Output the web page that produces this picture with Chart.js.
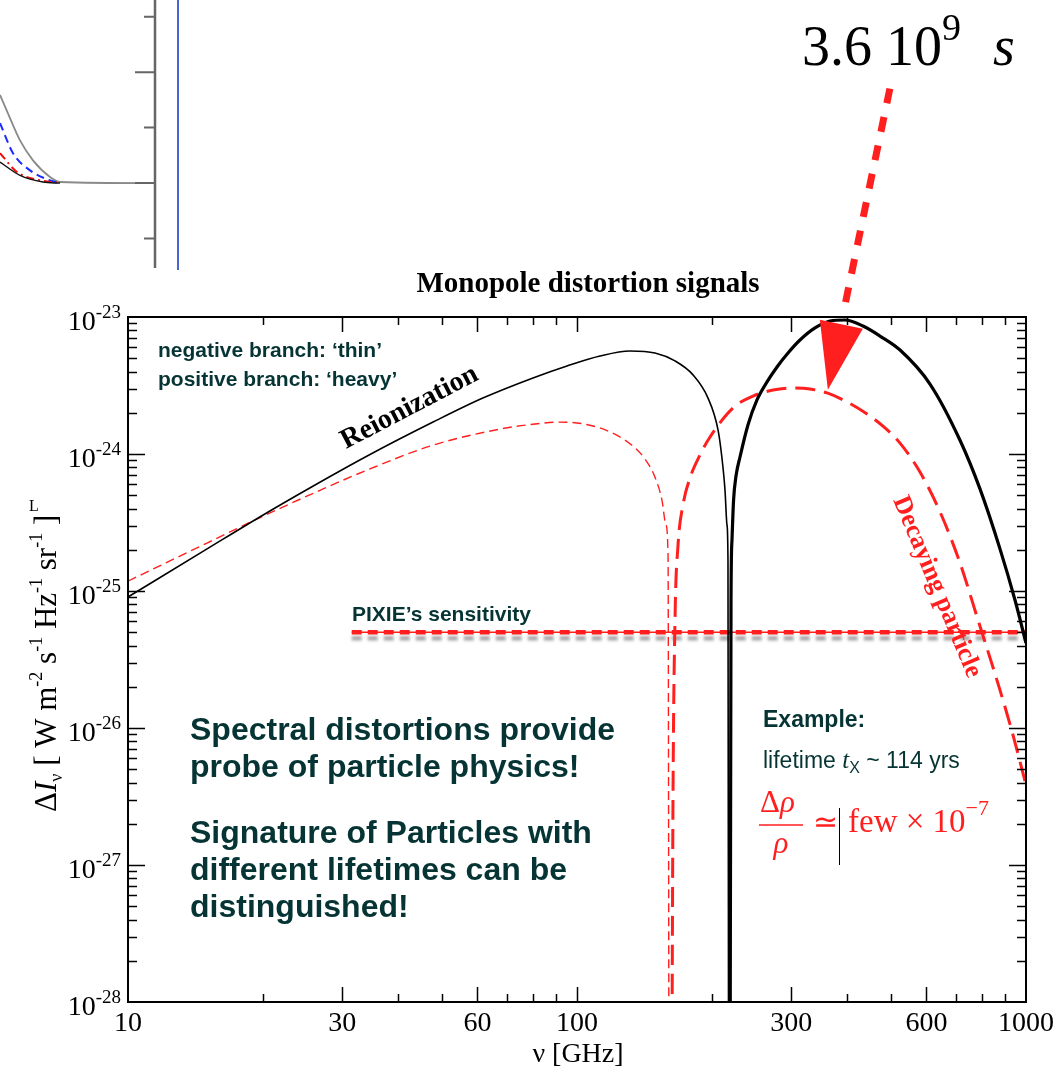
<!DOCTYPE html>
<html>
<head>
<meta charset="utf-8">
<script src="https://cdn.jsdelivr.net/npm/chart.js@4.4.1/dist/chart.umd.min.js"></script>
<style>
html, body { margin: 0; padding: 0; background: #fff; }
#wrap { position: relative; width: 1060px; height: 1072px; overflow: hidden; }
#main { position: absolute; left: 0; top: 0; width: 1060px; height: 1072px; }
#inset { position: absolute; left: 0; top: 0; width: 190px; height: 270px; }
</style>
</head>
<body>
<div id="wrap">
  <div id="main"><canvas id="mainChart"></canvas></div>
  <div id="inset"><canvas id="insetChart"></canvas></div>
</div>
<script>
// frequencies in GHz, intensities in W m^-2 s^-1 Hz^-1 sr^-1
const reionNu = [10, 15, 20, 25.4, 34.1, 47.8, 61.7, 79.8, 95, 112.5, 131.2, 149.2, 165.3, 181.3, 195.8, 206.1, 210.3, 213.6, 215.8, 216.9, 217.6];
const reionI  = [9.04e-26, 2.03e-25, 3.59e-25, 5.65e-25, 9.67e-25, 1.71e-24, 2.56e-24, 3.59e-24, 4.39e-24, 5.19e-24, 5.65e-24, 5.46e-24, 4.78e-24, 3.78e-24, 2.56e-24, 1.5e-24, 9.35e-25, 5.46e-25, 3.03e-25, 1.68e-25, 1e-29];

const heavyNu = [219.2, 220.3, 221.4, 223.2, 226, 230.7, 240.3, 251.7, 265, 278.9, 295.1, 313.8, 338.9, 366.1, 395.4, 433.5, 473.1, 524.2, 611.2, 712.9, 789.8, 875.1, 945.1, 1000];
const heavyI  = [1e-29, 8.59e-26, 2.36e-25, 4.61e-25, 6.9e-25, 9.51e-25, 1.63e-24, 2.48e-24, 3.36e-24, 4.32e-24, 5.46e-24, 6.79e-24, 8.32e-24, 9.35e-24, 9.51e-24, 8.59e-24, 7.26e-24, 5.74e-24, 3.24e-24, 1.26e-24, 5.56e-25, 2.03e-25, 8.59e-26, 4.17e-26];

const decayThinNu = [10, 15, 20, 27.2, 34.1, 47.8, 67.4, 79.8, 91.6, 104.2, 118.4, 133.3, 141.7, 149.1, 154.6, 157.8, 159.5, 160.3];
const decayThinI  = [1.18e-25, 2.24e-25, 3.52e-25, 5.56e-25, 7.64e-25, 1.16e-24, 1.52e-24, 1.65e-24, 1.71e-24, 1.65e-24, 1.45e-24, 1.14e-24, 9.2e-25, 6.8e-25, 4.61e-25, 3.03e-25, 1.83e-25, 1e-29];

const decayHeavyNu = [162.5, 163.6, 165.3, 167.9, 172.2, 178.5, 187.9, 197.8, 222.6, 246.6, 273.3, 302.8, 330.3, 360.5, 399.5, 442.6, 485.3, 524.2, 580.6, 643.5, 712.9, 781.9, 875.1, 935.4, 1000];
const decayHeavyI  = [1e-29, 2.98e-27, 6.14e-26, 2.17e-25, 4.25e-25, 6.68e-25, 9.84e-25, 1.33e-24, 2.17e-24, 2.65e-24, 2.93e-24, 3.03e-24, 2.98e-24, 2.79e-24, 2.4e-24, 1.96e-24, 1.55e-24, 1.2e-24, 7.39e-25, 3.78e-25, 1.6e-25, 6.14e-26, 1.89e-26, 8.89e-27, 3.84e-27];

const pixieNu = [31.5, 1000];
const pixieI  = [5.0e-26, 5.0e-26];

// arrow tip (GHz, intensity)
const arrowTip = [362, 2.95e-24];

const xLabelVals = [10, 30, 60, 100, 300, 600, 1000];
const xMajorTicks = [30, 60, 100, 300, 600];
const xMinorTicks = [20, 40, 50, 70, 80, 90, 200, 400, 500, 700, 800, 900];
const yDecades = [-28, -27, -26, -25, -24, -23];

// cropped panel in the top-left corner (arbitrary units)
const insetGrayX  = [0, 10, 20, 33, 50, 60, 155];
const insetGrayY  = [1.59, 1.17, 0.77, 0.41, 0.11, 0.02, 0];
const insetBlueX  = [0, 13, 30, 50, 60];
const insetBlueY  = [1.08, 0.54, 0.23, 0.05, 0];
const insetRedX   = [0, 17, 40, 57];
const insetRedY   = [0.54, 0.2, 0.05, 0.01];
const insetBlackX = [0, 20, 43, 60];
const insetBlackY = [0.38, 0.14, 0.02, 0];
const insetMajor  = [2, 0];
const insetMinor  = [3, 1, -1];
const insetMarkerX = 178;

const SERIF = '"Liberation Serif", "Times New Roman", serif';
const SANS = '"Liberation Sans", Arial, sans-serif';
const RED = '#ff1f1f';
const TEAL = '#063434';

const pts = (xs, ys) => xs.map((v, i) => ({ x: v, y: ys[i] }));

function rich(ctx, x, y, parts) {
  let cx = x;
  parts.forEach(([t, f, dy]) => {
    ctx.font = f;
    ctx.fillText(t, cx, y + (dy || 0));
    cx += ctx.measureText(t).width;
  });
  return cx - x;
}
function richWidth(ctx, parts) {
  let w = 0;
  parts.forEach(([t, f]) => { ctx.font = f; w += ctx.measureText(t).width; });
  return w;
}

const pixieShadow = {
  id: 'pixieShadow',
  beforeDatasetDraw(chart, args) {
    if (args.index !== 4) return;
    const ctx = chart.ctx;
    ctx.save();
    ctx.shadowColor = 'rgba(60,60,60,0.45)';
    ctx.shadowBlur = 3;
    ctx.shadowOffsetY = 6;
  },
  afterDatasetDraw(chart, args) {
    if (args.index !== 4) return;
    chart.ctx.restore();
  }
};

const decorations = {
  id: 'decorations',
  afterDraw(chart) {
    const { ctx, chartArea: a, scales: { x, y } } = chart;
    ctx.save();

    // frame
    ctx.strokeStyle = '#000';
    ctx.lineWidth = 2;
    ctx.strokeRect(a.left, a.top, a.right - a.left, a.bottom - a.top);

    // inward ticks
    ctx.lineWidth = 1.5;
    ctx.beginPath();
    xMajorTicks.concat(xMinorTicks).forEach(v => {
      const px = Math.round(x.getPixelForValue(v)) + 0.5;
      const len = xMajorTicks.includes(v) ? 15 : 8;
      ctx.moveTo(px, a.bottom); ctx.lineTo(px, a.bottom - len);
      ctx.moveTo(px, a.top); ctx.lineTo(px, a.top + len);
    });
    yDecades.forEach(d => {
      if (d > -28 && d < -23) {
        const py = Math.round(y.getPixelForValue(Math.pow(10, d))) + 0.5;
        ctx.moveTo(a.left, py); ctx.lineTo(a.left + 17, py);
        ctx.moveTo(a.right, py); ctx.lineTo(a.right - 17, py);
      }
      if (d < -23) {
        for (let m = 2; m <= 9; m++) {
          const py = Math.round(y.getPixelForValue(m * Math.pow(10, d))) + 0.5;
          ctx.moveTo(a.left, py); ctx.lineTo(a.left + 9, py);
          ctx.moveTo(a.right, py); ctx.lineTo(a.right - 9, py);
        }
      }
    });
    ctx.stroke();

    // tick labels
    ctx.fillStyle = '#000';
    ctx.textBaseline = 'alphabetic';
    ctx.textAlign = 'center';
    ctx.font = '28px ' + SERIF;
    xLabelVals.forEach(v => ctx.fillText(String(v), x.getPixelForValue(v), a.bottom + 29));
    ctx.textAlign = 'left';
    yDecades.forEach(d => {
      const py = y.getPixelForValue(Math.pow(10, d));
      const parts = [['10', '28px ' + SERIF, 0], ['-' + (-d), '19px ' + SERIF, -12]];
      const w = richWidth(ctx, parts);
      rich(ctx, 121 - w, py + 13, parts);
    });

    // axis titles
    ctx.textAlign = 'center';
    ctx.font = '28px ' + SERIF;
    ctx.fillText('\u03bd [GHz]', 578, 1062);
    ctx.textAlign = 'left';
    ctx.save();
    ctx.translate(56, 812);
    ctx.rotate(-Math.PI / 2);
    const big = '31px ' + SERIF, sm = '18px ' + SERIF;
    rich(ctx, 0, 0, [['\u0394', big], ['I', 'italic ' + big], ['\u03bd', sm, 6], [' [ W m', big], ['-2', sm, -14],
      [' s', big], ['-1', sm, -14], [' Hz', big], ['-1', sm, -14], [' sr', big], ['-1', sm, -14], [' ]', big]]);
    ctx.restore();
    ctx.font = '16px ' + SERIF;
    ctx.fillText('L', 29, 511);

    // title
    ctx.textAlign = 'center';
    ctx.font = 'bold 29px ' + SERIF;
    ctx.fillText('Monopole distortion signals', 588, 292);

    // curve labels
    ctx.textAlign = 'left';
    ctx.save();
    ctx.translate(346, 449);
    ctx.rotate(Math.atan2(-70, 134));
    ctx.font = 'bold 28px ' + SERIF;
    ctx.fillText('Reionization', 0, 0);
    ctx.restore();
    ctx.save();
    ctx.translate(893, 500);
    ctx.rotate(Math.atan2(183, 77));
    ctx.fillStyle = RED;
    ctx.font = 'bold 26px ' + SERIF;
    ctx.fillText('Decaying particle', 0, 0);
    ctx.restore();

    // teal annotations
    ctx.fillStyle = TEAL;
    ctx.font = 'bold 21px ' + SANS;
    ctx.fillText('negative branch: \u2018thin\u2019', 158, 357);
    ctx.fillText('positive branch: \u2018heavy\u2019', 158, 386);
    ctx.fillText('PIXIE\u2019s sensitivity', 352, 621);
    ctx.font = 'bold 32px ' + SANS;
    ['Spectral distortions provide', 'probe of particle physics!'].forEach((t, i) => ctx.fillText(t, 190, 740 + i * 37));
    ['Signature of Particles with', 'different lifetimes can be', 'distinguished!'].forEach((t, i) => ctx.fillText(t, 190, 843 + i * 37));
    ctx.font = 'bold 23px ' + SANS;
    ctx.fillText('Example:', 763, 727);
    rich(ctx, 763, 768, [['lifetime ', '23px ' + SANS], ['t', 'italic 25px ' + SERIF], ['X', '16px ' + SANS, 5], [' ~ 114 yrs', '23px ' + SANS]]);

    // formula
    ctx.fillStyle = RED;
    ctx.strokeStyle = RED;
    rich(ctx, 760, 812, [['\u0394', '31px ' + SERIF], ['\u03c1', 'italic 31px ' + SERIF]]);
    ctx.textAlign = 'center';
    ctx.font = 'italic 31px ' + SERIF;
    ctx.fillText('\u03c1', 781, 853);
    ctx.lineWidth = 1.5;
    ctx.beginPath(); ctx.moveTo(759, 825); ctx.lineTo(803, 825); ctx.stroke();
    ctx.textAlign = 'left';
    ctx.font = '30px ' + SERIF;
    ctx.fillText('\u2243', 813, 832);
    rich(ctx, 848, 832, [['few \u00d7 10', '33px ' + SERIF], ['\u22127', '22px ' + SERIF, -17]]);
    ctx.strokeStyle = '#000';
    ctx.lineWidth = 1;
    ctx.beginPath(); ctx.moveTo(839.5, 808); ctx.lineTo(839.5, 865); ctx.stroke();

    // arrow pointing at the peak
    const tx = x.getPixelForValue(arrowTip[0]);
    const ty = y.getPixelForValue(arrowTip[1]);
    ctx.fillStyle = RED;
    ctx.strokeStyle = RED;
    ctx.lineWidth = 7;
    ctx.setLineDash([15, 14]);
    ctx.beginPath(); ctx.moveTo(tx + 62, ty - 301); ctx.lineTo(tx + 17, ty - 84); ctx.stroke();
    ctx.setLineDash([]);
    ctx.beginPath();
    ctx.moveTo(tx, ty); ctx.lineTo(tx - 8, ty - 70); ctx.lineTo(tx + 35, ty - 61); ctx.closePath();
    ctx.fill();

    // lifetime label
    ctx.fillStyle = '#000';
    rich(ctx, 802, 65, [['3.6 10', '56px ' + SERIF], ['9', '38px ' + SERIF, -25]]);
    ctx.font = 'italic 56px ' + SERIF;
    ctx.fillText('s', 993, 65);

    ctx.restore();
  }
};

const noAxis = {
  display: true,
  grid: { display: false, drawTicks: false },
  border: { display: false },
  ticks: { display: false }
};

new Chart(document.getElementById('mainChart'), {
  type: 'line',
  data: {
    datasets: [
      { data: pts(heavyNu, heavyI), borderColor: '#000', borderWidth: 3.2, order: 1 },
      { data: pts(reionNu, reionI), borderColor: '#000', borderWidth: 1.6, order: 2 },
      { data: pts(decayHeavyNu, decayHeavyI), borderColor: RED, borderWidth: 3, borderDash: [20, 9], order: 3 },
      { data: pts(decayThinNu, decayThinI), borderColor: RED, borderWidth: 1.4, borderDash: [9, 5], order: 4 },
      { data: pts(pixieNu, pixieI), borderColor: RED, borderWidth: 4.5, borderDash: [10, 6], order: 6 },
      { data: pts(pixieNu, pixieI), borderColor: RED, borderWidth: 1.3, order: 5 }
    ]
  },
  options: {
    responsive: true,
    maintainAspectRatio: false,
    animation: false,
    devicePixelRatio: 1,
    layout: { padding: { left: 128, top: 317, right: 34, bottom: 70 } },
    elements: {
      point: { radius: 0 },
      line: { cubicInterpolationMode: 'monotone', borderJoinStyle: 'round', fill: false }
    },
    plugins: { legend: { display: false }, tooltip: { enabled: false } },
    scales: {
      x: Object.assign({ type: 'logarithmic', min: 10, max: 1000, afterFit: s => { s.height = 0; } }, noAxis),
      y: Object.assign({ type: 'logarithmic', min: 1e-28, max: 1e-23, afterFit: s => { s.width = 0; } }, noAxis)
    }
  },
  plugins: [pixieShadow, decorations]
});

const insetAxis = {
  id: 'insetAxis',
  afterDraw(chart) {
    const { ctx, chartArea: a, scales: { y } } = chart;
    ctx.save();
    ctx.strokeStyle = '#666';
    ctx.lineWidth = 2.5;
    ctx.beginPath();
    ctx.moveTo(a.right, 0); ctx.lineTo(a.right, a.bottom);
    ctx.stroke();
    ctx.lineWidth = 2;
    ctx.beginPath();
    insetMajor.forEach(v => { const py = y.getPixelForValue(v); ctx.moveTo(a.right, py); ctx.lineTo(a.right - 20, py); });
    insetMinor.forEach(v => { const py = y.getPixelForValue(v); ctx.moveTo(a.right, py); ctx.lineTo(a.right - 11, py); });
    ctx.stroke();
    ctx.restore();
  }
};

new Chart(document.getElementById('insetChart'), {
  type: 'line',
  data: {
    datasets: [
      { data: pts(insetBlackX, insetBlackY), borderColor: '#111', borderWidth: 1.5 },
      { data: pts(insetRedX, insetRedY), borderColor: '#f01010', borderWidth: 2, borderDash: [8, 4, 2, 4] },
      { data: pts(insetBlueX, insetBlueY), borderColor: '#1a2cff', borderWidth: 2, borderDash: [8, 5] },
      { data: pts(insetGrayX, insetGrayY), borderColor: '#8a8a8a', borderWidth: 1.8 },
      { data: pts([insetMarkerX, insetMarkerX], [-1.6, 3.4]), borderColor: '#1030c0', borderWidth: 1.5, clip: false }
    ]
  },
  options: {
    responsive: true,
    maintainAspectRatio: false,
    animation: false,
    devicePixelRatio: 1,
    layout: { padding: { left: 0, top: 0, right: 35, bottom: 2 } },
    elements: { point: { radius: 0 }, line: { cubicInterpolationMode: 'monotone' } },
    plugins: { legend: { display: false }, tooltip: { enabled: false } },
    scales: {
      x: Object.assign({ type: 'linear', min: 0, max: 155, afterFit: s => { s.height = 0; } }, noAxis),
      y: Object.assign({ type: 'linear', min: -1.53, max: 3.30, afterFit: s => { s.width = 0; } }, noAxis)
    }
  },
  plugins: [insetAxis]
});
</script>
</body>
</html>
